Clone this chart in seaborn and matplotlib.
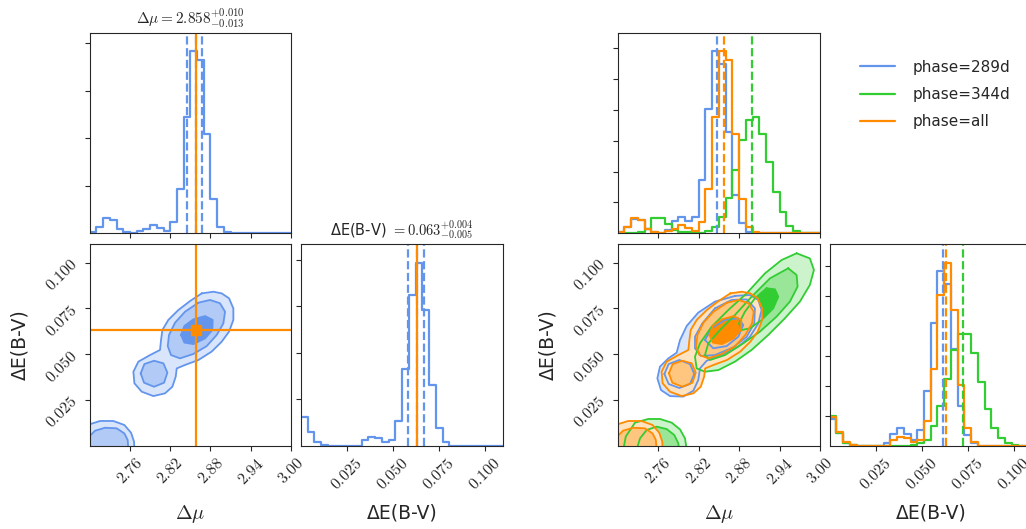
import numpy as np
import pandas as pd
import matplotlib
matplotlib.use("Agg")
import matplotlib.pyplot as plt
import matplotlib.colors as mcolors
from matplotlib.lines import Line2D
from matplotlib.ticker import FuncFormatter
import seaborn as sns

sns.set_style("ticks")
plt.rcParams["font.family"] = ["DejaVu Sans"]
plt.rcParams["mathtext.fontset"] = "cm"

# ---- data ----
mu_range = (2.70, 3.00)
ebv_range = (0.0, 0.11)
n_bins = 30

# histogram heights (arbitrary units, one tick = 1 unit in right-hand panels)
mu_all = [0.04, 0.22, 0.48, 0.44, 0.15, 0.03, 0.00, 0.06, 0.15, 0.26, 0.18, 0.09, 0.36, 1.45, 3.77,
          5.91, 5.62, 3.21, 1.10, 0.22, 0.03, 0, 0, 0, 0, 0, 0, 0, 0, 0]
mu_289 = [0.03, 0.20, 0.45, 0.42, 0.14, 0.03, 0.02, 0.11, 0.41, 0.53, 0.39, 0.54, 1.74, 4.03, 5.90,
          5.47, 3.27, 1.24, 0.32, 0.05, 0, 0, 0, 0, 0, 0, 0, 0, 0, 0]
mu_344 = [0, 0, 0, 0.03, 0.14, 0.48, 0.49, 0.30, 0.11, 0.05, 0.03, 0.02, 0.02, 0.08, 0.19,
          0.52, 1.13, 2.04, 3.03, 3.66, 3.77, 3.23, 2.31, 1.35, 0.69, 0.24, 0.08, 0.02, 0, 0]
ebv_all = [0.97, 0.46, 0.11, 0.02, 0, 0, 0, 0, 0, 0.18, 0.30, 0.25, 0.12, 0.20, 0.81,
           2.57, 5.04, 6.11, 4.53, 2.04, 0.58, 0.11, 0, 0, 0, 0, 0, 0, 0, 0]
ebv_289 = [0.90, 0.42, 0.10, 0.02, 0, 0, 0, 0, 0.10, 0.38, 0.58, 0.38, 0.19, 0.54, 1.82,
           4.10, 5.83, 5.41, 3.24, 1.32, 0.36, 0.08, 0, 0, 0, 0, 0, 0, 0, 0]
ebv_344 = [1.00, 0.44, 0.10, 0.02, 0, 0, 0, 0, 0, 0, 0, 0, 0.02, 0.08, 0.19,
           0.66, 1.32, 2.24, 3.19, 3.74, 3.74, 3.08, 2.11, 1.24, 0.58, 0.27, 0.10, 0.03, 0, 0]

# 16/50/84 percentiles of the left (single) corner, and truth
mu_q = [2.845, 2.858, 2.868]
ebv_q = [0.058, 0.063, 0.067]
truth = [2.858, 0.063]

# medians drawn in the right corner
med_289 = [2.847, 0.0614]
med_344 = [2.899, 0.0723]
med_all = [2.858, 0.0632]

# 2D credible contours, (delta mu, delta E(B-V)) vertices
all_outer = [(2.867, 0.0832), (2.8843, 0.0841), (2.8967, 0.0832), (2.9077, 0.0805), (2.9141, 0.0750),
             (2.9141, 0.0687), (2.9077, 0.0623), (2.8967, 0.0568), (2.8818, 0.0514), (2.862, 0.0468),
             (2.8421, 0.0441), (2.8297, 0.0422), (2.8282, 0.0377), (2.8232, 0.0322), (2.8123, 0.0286),
             (2.7949, 0.0271), (2.7775, 0.0295), (2.7666, 0.0341), (2.7651, 0.0404), (2.7725, 0.0459),
             (2.7899, 0.0495), (2.8048, 0.0523), (2.8063, 0.0577), (2.8083, 0.0632), (2.8172, 0.0687),
             (2.8321, 0.0741), (2.8495, 0.0790)]
all_mid = [(2.862, 0.0781), (2.8793, 0.0796), (2.8942, 0.0778), (2.9017, 0.0732), (2.8992, 0.0668),
           (2.8893, 0.0605), (2.8744, 0.0544), (2.8545, 0.0501), (2.8346, 0.0477), (2.8212, 0.0495),
           (2.8163, 0.0544), (2.8182, 0.0605), (2.8272, 0.0672), (2.8421, 0.0732)]
all_mid_side = [(2.776, 0.0395), (2.7815, 0.0446), (2.7959, 0.0464), (2.8098, 0.0450), (2.8158, 0.0399),
                (2.8108, 0.0344), (2.7959, 0.0322), (2.781, 0.0344)]
all_inner = [(2.8361, 0.0605), (2.8411, 0.0654), (2.8545, 0.0690), (2.8719, 0.0708), (2.8833, 0.0687),
             (2.8828, 0.0632), (2.8719, 0.0586), (2.8545, 0.0555), (2.8411, 0.0563)]
all_low_outer = [(2.69, 0.0117), (2.700, 0.0117), (2.7154, 0.0135), (2.7353, 0.0135), (2.7517, 0.0113),
                 (2.7616, 0.0071), (2.7661, 0.0022), (2.7666, -0.002), (2.69, -0.002)]
all_low_mid = [(2.69, 0.0053), (2.700, 0.0053), (2.708, 0.0082), (2.7229, 0.0098), (2.7402, 0.0095),
               (2.7517, 0.0067), (2.7566, 0.0031), (2.7576, -0.002), (2.69, -0.002)]

b_outer = [(2.8739, 0.0818), (2.8961, 0.0823), (2.9085, 0.0796), (2.9134, 0.0741), (2.9085, 0.0668),
           (2.8961, 0.0595), (2.8788, 0.0541), (2.8541, 0.0495), (2.8319, 0.0464), (2.822, 0.0422),
           (2.8195, 0.0359), (2.8121, 0.0300), (2.7973, 0.0268), (2.7776, 0.0271), (2.7642, 0.0304),
           (2.7588, 0.0368), (2.7627, 0.0432), (2.7751, 0.0477), (2.7874, 0.0508), (2.7924, 0.0577),
           (2.8023, 0.0654), (2.8195, 0.0727), (2.8442, 0.0787)]
b_mid = [(2.8442, 0.0750), (2.869, 0.0796), (2.8912, 0.0799), (2.9035, 0.0750), (2.9025, 0.0668),
         (2.8912, 0.0595), (2.8714, 0.0537), (2.8442, 0.0495), (2.8235, 0.0490), (2.8146, 0.0532),
         (2.8146, 0.0595), (2.8255, 0.0668)]
b_mid_side = [(2.7692, 0.0392), (2.7756, 0.0446), (2.7914, 0.0468), (2.8072, 0.0446), (2.8136, 0.0392),
              (2.8072, 0.0337), (2.7914, 0.0315), (2.7756, 0.0337)]
b_inner = [(2.8294, 0.0577), (2.8393, 0.0641), (2.8591, 0.0687), (2.8788, 0.0696), (2.8862, 0.0659),
           (2.8788, 0.0595), (2.8615, 0.0544), (2.8418, 0.0532)]

g_outer = [(2.9653, 0.1051), (2.985, 0.1023), (2.991, 0.0960), (2.985, 0.0878), (2.9702, 0.0787),
           (2.948, 0.0696), (2.9233, 0.0605), (2.8986, 0.0523), (2.8739, 0.0459), (2.8492, 0.0413),
           (2.8294, 0.0404), (2.8171, 0.0422), (2.8146, 0.0486), (2.822, 0.0559), (2.8393, 0.065),
           (2.864, 0.0741), (2.8912, 0.0832), (2.9183, 0.0941), (2.943, 0.1014)]
g_mid = [(2.9529, 0.0969), (2.9653, 0.0932), (2.9668, 0.0869), (2.9554, 0.0787), (2.9356, 0.0705),
         (2.9109, 0.0623), (2.8862, 0.0559), (2.8591, 0.0495), (2.8368, 0.0468), (2.8294, 0.0495),
         (2.8344, 0.0559), (2.8517, 0.0632), (2.8739, 0.0714), (2.8986, 0.0814), (2.9258, 0.0914)]
g_inner = [(2.9208, 0.086), (2.9332, 0.0854), (2.9381, 0.0814), (2.9307, 0.075), (2.9134, 0.0687),
           (2.8961, 0.0641), (2.8838, 0.0632), (2.8798, 0.0668), (2.8887, 0.0732), (2.9035, 0.0805)]
g_low_outer = [(2.7084, -0.002), (2.712, 0.0050), (2.7257, 0.0126), (2.7454, 0.0146), (2.7627, 0.0146),
               (2.78, 0.0126), (2.7924, 0.0089), (2.7998, 0.0040), (2.8023, -0.002)]
g_low_mid = [(2.7282, -0.002), (2.7331, 0.004), (2.743, 0.0086), (2.7578, 0.0104), (2.7726, 0.0091),
             (2.784, 0.0058), (2.7899, 0.0013), (2.7909, -0.002)]

labels = ["phase=289d", "phase=344d", "phase=all"]
c_blue, c_green, c_orange = "cornflowerblue", "limegreen", "darkorange"

mu_edges = np.linspace(mu_range[0], mu_range[1], n_bins + 1)
ebv_edges = np.linspace(ebv_range[0], ebv_range[1], n_bins + 1)
mu_ticks = [2.76, 2.82, 2.88, 2.94, 3.00]
ebv_ticks = [0.025, 0.050, 0.075, 0.100]


def tint(color, f):
    rgb = np.array(mcolors.to_rgb(color))
    return tuple(1 - f * (1 - rgb))


def step_hist(ax, vals, edges, color):
    df = pd.DataFrame({"x": 0.5 * (edges[:-1] + edges[1:]), "w": vals})
    sns.histplot(data=df, x="x", weights="w", bins=len(edges) - 1, binrange=(edges[0], edges[-1]),
                 element="step", fill=False, color=color, linewidth=1.6, ax=ax)


def fill_levels(ax, levels, color):
    # levels: (outer list, mid list, inner list)
    for polys, f in zip(levels, [0.25, 0.5, 1.0]):
        for poly in polys:
            xs, ys = zip(*poly)
            ax.fill(xs, ys, color=tint(color, f), lw=0)


def line_levels(ax, levels, color):
    for polys in levels:
        for poly in polys:
            xs, ys = zip(*(poly + [poly[0]]))
            ax.plot(xs, ys, color=color, lw=1.3, solid_joinstyle="round")


W, H = 1026, 529


def rect(x0, y0, x1, y1):
    return [x0 / W, 1 - y1 / H, (x1 - x0) / W, (y1 - y0) / H]


fmt2 = FuncFormatter(lambda v, p: "$%.2f$" % v)
fmt3 = FuncFormatter(lambda v, p: "$%.3f$" % v)
tick_fs = 11.5
label_fs = 13.5

fig = plt.figure(figsize=(W / 100, H / 100), dpi=100)


def setup_top(ax, ymax, ystep):
    ax.set_xlim(*mu_range)
    ax.set_ylim(0, ymax)
    ax.set_xticks(mu_ticks)
    ax.set_xticklabels([])
    ax.set_yticks(np.arange(ystep, ymax, ystep))
    ax.set_yticklabels([])
    ax.set_xlabel("")
    ax.set_ylabel("")


def setup_2d(ax):
    ax.set_xlim(*mu_range)
    ax.set_ylim(*ebv_range)
    ax.set_xticks(mu_ticks)
    ax.set_yticks(ebv_ticks)
    ax.xaxis.set_major_formatter(fmt2)
    ax.yaxis.set_major_formatter(fmt3)
    ax.tick_params(axis="both", labelrotation=45, labelsize=tick_fs)
    ax.set_xlabel(r"$\Delta\mu$", fontsize=label_fs + 1)
    ax.xaxis.set_label_coords(0.5, -0.285)
    ax.xaxis.label.set_va("top")
    ax.set_ylabel("ΔE(B-V)", fontsize=label_fs)
    ax.yaxis.set_label_coords(-0.30, 0.5)


def setup_ebv(ax, ymax, ystep):
    ax.set_xlim(*ebv_range)
    ax.set_ylim(0, ymax)
    ax.set_xticks(ebv_ticks)
    ax.xaxis.set_major_formatter(fmt3)
    ax.tick_params(axis="x", labelrotation=45, labelsize=tick_fs)
    ax.set_yticks(np.arange(ystep, ymax, ystep))
    ax.set_yticklabels([])
    ax.set_ylabel("")
    ax.set_xlabel("ΔE(B-V)", fontsize=label_fs)
    ax.xaxis.set_label_coords(0.5, -0.285)
    ax.xaxis.label.set_va("top")


# ---------------- left corner: single data set ----------------
ax_t = fig.add_axes(rect(89.7, 32.5, 291, 233.3))
step_hist(ax_t, mu_all, mu_edges, c_blue)
for q in mu_q:
    ax_t.axvline(q, color=c_blue, ls="--", lw=1.6)
ax_t.axvline(truth[0], color=c_orange, lw=1.6)
setup_top(ax_t, 1.1 * max(mu_all), 1.54)
ax_t.set_title(r"$\Delta\mu = %.3f^{+%.3f}_{-%.3f}$" % (mu_q[1], mu_q[2] - mu_q[1], mu_q[1] - mu_q[0]),
               fontsize=11)

ax_c = fig.add_axes(rect(89.7, 244.3, 291, 445.7))
lv_all = ([all_outer, all_low_outer], [all_mid, all_mid_side, all_low_mid], [all_inner])
fill_levels(ax_c, lv_all, c_blue)
line_levels(ax_c, lv_all, c_blue)
ax_c.axvline(truth[0], color=c_orange, lw=1.6)
ax_c.axhline(truth[1], color=c_orange, lw=1.6)
ax_c.plot([truth[0]], [truth[1]], "s", color=c_orange, ms=6.5)
setup_2d(ax_c)

ax_e = fig.add_axes(rect(301, 244.3, 503.3, 445.7))
step_hist(ax_e, ebv_all, ebv_edges, c_blue)
for q in ebv_q:
    ax_e.axvline(q, color=c_blue, ls="--", lw=1.6)
ax_e.axvline(truth[1], color=c_orange, lw=1.6)
setup_ebv(ax_e, 1.1 * max(ebv_all), 1.55)
ax_e.set_title("ΔE(B-V) " + r"$= %.3f^{+%.3f}_{-%.3f}$" % (ebv_q[1], ebv_q[2] - ebv_q[1], ebv_q[1] - ebv_q[0]),
               fontsize=10.5)

# ---------------- right corner: three phases ----------------
series = [(mu_289, ebv_289, med_289, c_blue),
          (mu_344, ebv_344, med_344, c_green),
          (mu_all, ebv_all, med_all, c_orange)]

ax_t2 = fig.add_axes(rect(617.7, 32.5, 820, 233.3))
ax_c2 = fig.add_axes(rect(617.7, 244.3, 820, 445.7))
ax_e2 = fig.add_axes(rect(829.6, 244.3, 1031.9, 445.7))

for mu_h, ebv_h, med, col in series:
    step_hist(ax_t2, mu_h, mu_edges, col)
    step_hist(ax_e2, ebv_h, ebv_edges, col)
for mu_h, ebv_h, med, col in series:
    ax_t2.axvline(med[0], color=col, ls="--", lw=1.6)
    ax_e2.axvline(med[1], color=col, ls="--", lw=1.6)
setup_top(ax_t2, 1.1 * max(mu_all), 1.0)
setup_ebv(ax_e2, 1.1 * max(ebv_all), 1.0)

lv_289 = ([b_outer], [b_mid, b_mid_side], [b_inner])
lv_344 = ([g_outer, g_low_outer], [g_mid, g_low_mid], [g_inner])
for lv, col in [(lv_289, c_blue), (lv_344, c_green), (lv_all, c_orange)]:
    fill_levels(ax_c2, lv, col)
for lv, col in [(lv_289, c_blue), (lv_344, c_green), (lv_all, c_orange)]:
    line_levels(ax_c2, lv, col)
setup_2d(ax_c2)

handles = [Line2D([], [], color=c, lw=1.6) for c in (c_blue, c_green, c_orange)]
fig.legend(handles, labels, loc="upper left", bbox_to_anchor=(0.825, 0.913), frameon=False,
           fontsize=11, handlelength=2.3, handletextpad=1.1, labelspacing=0.8)

fig.savefig("out.png", dpi=100)
